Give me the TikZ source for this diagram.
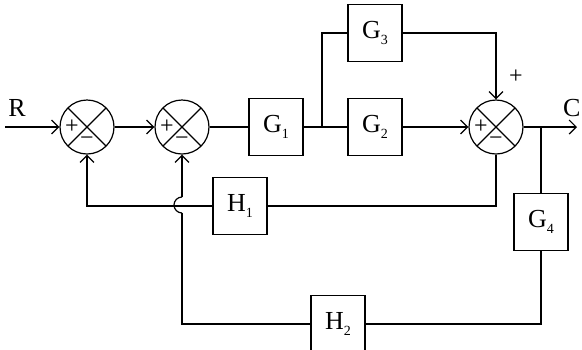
\documentclass[tikz,border=0pt]{standalone}
\usepackage{fontspec}
\setmainfont{Liberation Serif}
\usetikzlibrary{arrows.meta, positioning}

\newcommand{\blk}[2]{#1\raisebox{-0.45ex}{\fontsize{14}{14}\selectfont #2}}

\begin{document}
\begin{tikzpicture}[
        x = 1pt, y = 1pt,
        node distance = 95pt,
        on grid,
        line width = 1.2pt,
        >= {Straight Barb[length = 7pt, width = 14pt]},
        sum/.style = {circle, draw, minimum size = 54pt, inner sep = 0pt,
            path picture = {
                \draw (path picture bounding box.north west) -- (path picture bounding box.south east);
                \draw (path picture bounding box.north east) -- (path picture bounding box.south west);
            }},
        block/.style = {draw, minimum width = 54pt, minimum height = 57pt, inner sep = 0pt,
            font = \fontsize{26}{28}\selectfont},
        sign/.style = {inner sep = 0pt, font = \fontsize{24}{24}\selectfont},
        lbl/.style = {inner sep = 0pt, font = \fontsize{26}{28}\selectfont}
    ]

      \useasboundingbox (0,0) rectangle (582,-349);
      \clip (0,0) rectangle (582,-349);

      \node[sum] (s1) at (87,-127) {};
      \node[sum] (s2) [right = 95pt of s1] {};
      \node[block] (g1) [right = 94pt of s2] {\blk{G}{1}};
      \node[block] (g2) [right = 99pt of g1] {\blk{G}{2}};
      \node[block] (g3) [above = 94pt of g2] {\blk{G}{3}};
      \node[sum] (s3) [right = 121pt of g2] {};
      \node[block] (g4) [below right = 95pt and 45pt of s3] {\blk{G}{4}};
      \node[block] (h1) at (240,-206) {\blk{H}{1}};
      \node[block] (h2) at (338,-324) {\blk{H}{2}};

      \node[lbl] (r) at (17,-108) {R};
      \node[lbl, anchor = east] (c) at (581,-108) {C};

      % signs
      \node[sign] (p1) at ([xshift = -15pt] s1.center) {+};
      \node[sign] (m1) at ([yshift = -14pt] s1.center) {−};
      \node[sign] (p2) at ([xshift = -15pt] s2.center) {+};
      \node[sign] (m2) at ([yshift = -14pt] s2.center) {−};
      \node[sign] (p3) at ([xshift = -15pt] s3.center) {+};
      \node[sign] (m3) at ([yshift = -14pt] s3.center) {−};
      \node[sign] (p4) at (516,-77) {+};

      \coordinate (in) at (5,-127);
      \coordinate (j) at (322,-127);
      \coordinate (br) at (541,-127);
      \coordinate (out) at (577,-127);
      \coordinate (bump) at (182,-213);
      \coordinate (bumptop) at (182,-197);

      \draw[->] (in) -- (s1);
      \draw[->] (s1) -- (s2);
      \draw (s2) -- (g1);
      \draw (g1) -- (g2);
      \draw (j) |- (g3);
      \draw[->] (g3) -| (s3);
      \draw[->] (g2) -- (s3);
      \draw[->] (s3) -- (out);
      \draw (br) -- (g4);

      \draw (s3) |- (h1);
      \draw[->] (h1) -| (s1);
      \draw (g4) |- (h2);
      \draw (h2) -| (bump);
      \draw (bump) arc[start angle = -90, end angle = -270, radius = 8pt];
      \draw[->] (bumptop) -- (s2);

\end{tikzpicture}
\end{document}
